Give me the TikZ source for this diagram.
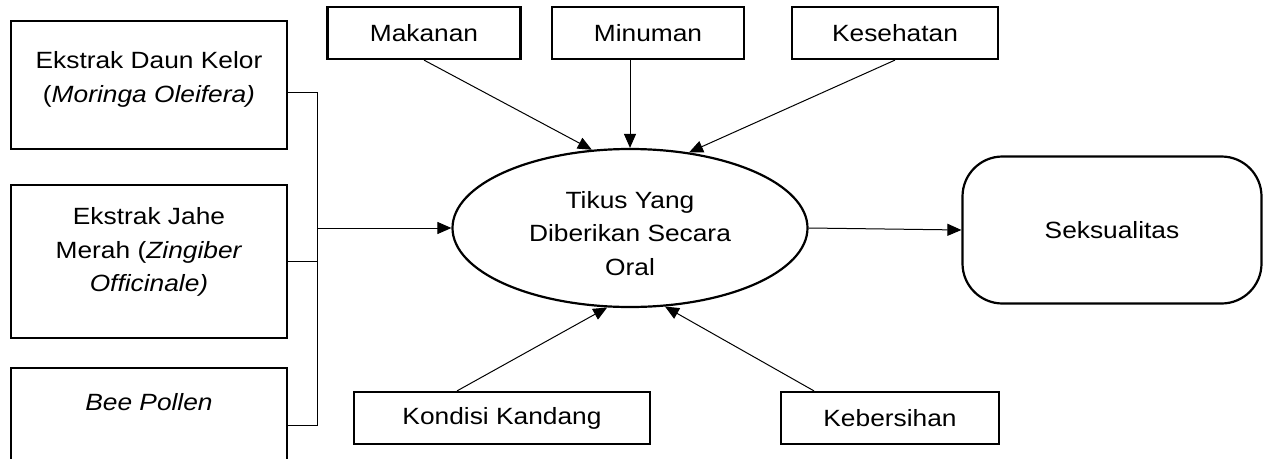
\documentclass[tikz,border=0pt]{standalone}
\usepackage{fontspec}
\setmainfont{Liberation Sans}[FakeStretch=1.12]
\usetikzlibrary{shapes.geometric,arrows.meta}
\begin{document}
\begin{tikzpicture}[x=1pt,y=-1pt,
  every node/.style={font=\fontsize{23.5}{33.5}\selectfont},
  box/.style={draw,line width=2.2pt,inner sep=0pt},
  boxtext/.style={anchor=north,align=center,inner sep=0pt},
  link/.style={line width=1pt},
  arr/.style={link,-{Triangle[length=14pt,width=12pt]}}]
\useasboundingbox (0,0) rectangle (1269,458);
% left column
\node[box,minimum width=276,minimum height=128,label={[boxtext,yshift=-31.5pt]north:Ekstrak Daun Kelor\\(\textit{Moringa Oleifera)}}] (kelor) at (149,85) {};
\node[box,minimum width=276,minimum height=153,label={[boxtext,yshift=-23.5pt]north:Ekstrak Jahe\\Merah (\textit{Zingiber}\\\textit{Officinale)}}] (jahe) at (149,261.5) {};
\node[box,minimum width=276,minimum height=114,label={[boxtext,yshift=-26.5pt]north:\textit{Bee Pollen}}] (pollen) at (149,425) {};
% centre and result
\node[ellipse,draw,line width=2.2pt,minimum width=355,minimum height=158,align=center,inner sep=0pt,text height=95pt] (tikus) at (630,228) {Tikus Yang\\Diberikan Secara\\Oral};
\node[box,rounded corners=40pt,minimum width=299,minimum height=147] (seks) at (1112,230) {Seksualitas};
% factors
\node[box,minimum width=193,minimum height=52] (makanan) at (424,33) {Makanan};
\node[box,minimum width=192,minimum height=52] (minuman) at (648,33) {Minuman};
\node[box,minimum width=206,minimum height=52] (kesehatan) at (895,33) {Kesehatan};
\node[box,minimum width=296,minimum height=52] (kondisi) at (502,418) {Kondisi Kandang};
\node[box,minimum width=218,minimum height=52] (kebersihan) at (890,418) {Kebersihan};
% connectors
\coordinate (jtop) at (317,92);
\coordinate (jbot) at (317,425);
\draw[link] ([yshift=-7pt]kelor.east) -- (jtop) -- (jbot) -- (pollen.east);
\draw[link] (jahe.east) -- (jahe.east -| jtop);
\draw[arr] (jtop |- tikus.west) -- (tikus.west);
\draw[arr] (makanan.south) -- (tikus.116);
\draw[arr] (tikus.north |- minuman.south) -- (tikus.north);
\draw[arr] (kesehatan.south) -- (tikus.52);
\draw[arr] ([xshift=-45pt]kondisi.north) -- (tikus.254);
\draw[arr] ([xshift=-76pt]kebersihan.north) -- (tikus.294);
\draw[arr] (tikus.east) -- (seks.west);
\end{tikzpicture}
\end{document}
